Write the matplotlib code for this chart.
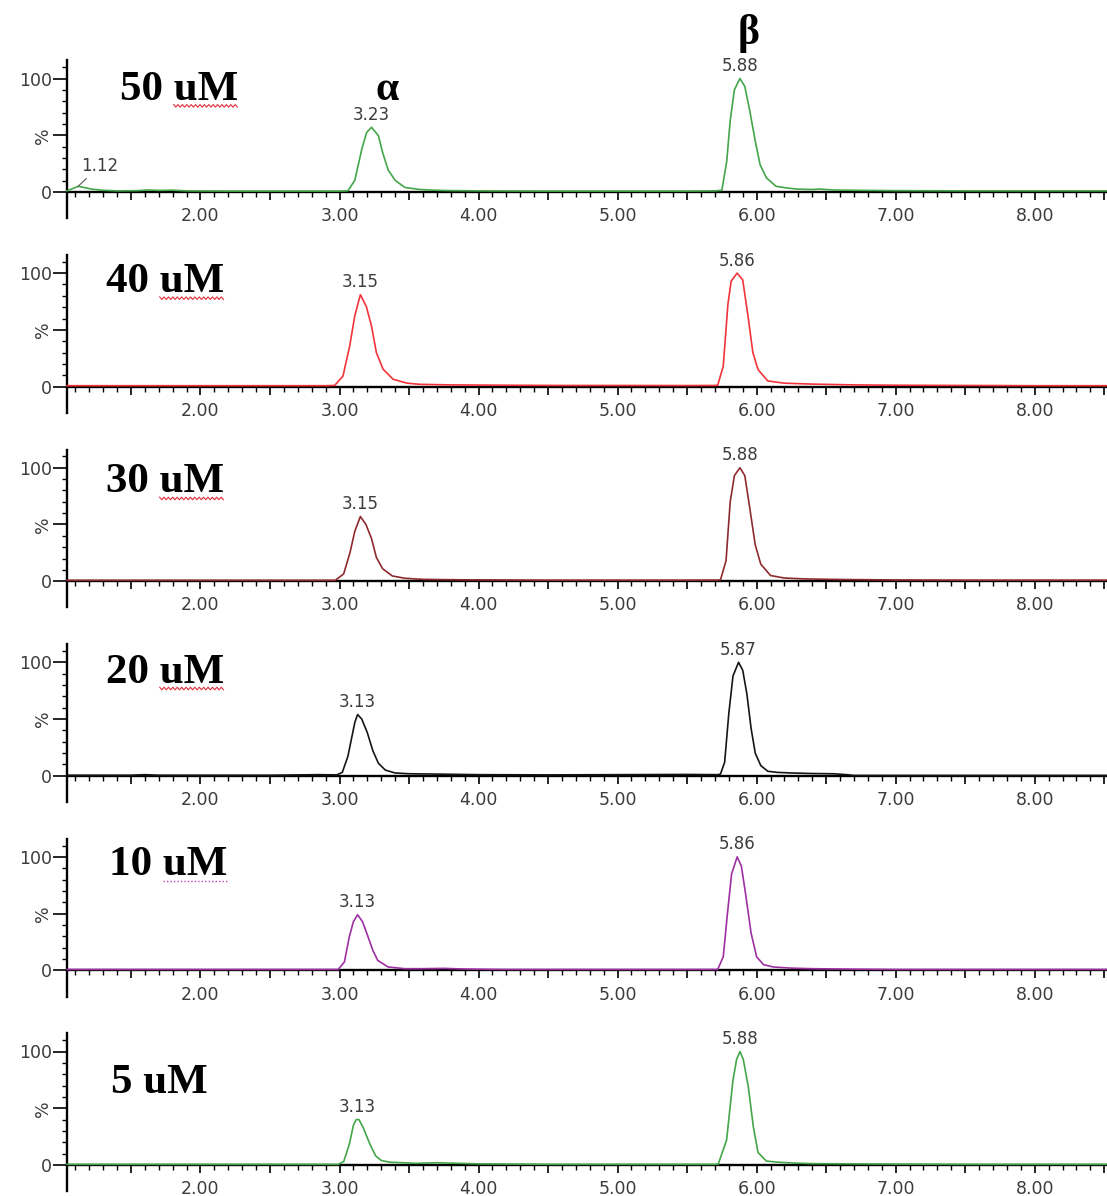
import matplotlib
matplotlib.use("Agg")
import matplotlib.pyplot as plt
from matplotlib.ticker import MultipleLocator, FixedLocator, FuncFormatter
from matplotlib.lines import Line2D
import numpy as np

# ---------------- data ----------------
concentrations = ["50 uM", "40 uM", "30 uM", "20 uM", "10 uM", "5 uM"]
alpha_rt = [3.23, 3.15, 3.15, 3.13, 3.13, 3.13]
beta_rt = [5.88, 5.86, 5.88, 5.87, 5.86, 5.88]
minor_peak_rt = 1.12          # small peak labelled in the 50 uM trace
y_ticks = [0, 50, 100]
y_ticklabels = ["0", "%", "100"]

t50 = [1.04, 1.08, 1.12, 1.16, 1.22, 1.30, 1.40, 1.55, 1.62, 1.70, 1.80, 1.90, 2.20, 2.60, 3.00, 3.06, 3.11, 3.16, 3.195, 3.23,
       3.28, 3.31, 3.35, 3.40, 3.47, 3.52, 3.57, 3.64, 3.75, 4.00, 4.50, 5.00, 5.50, 5.70, 5.75, 5.785, 5.81, 5.84, 5.88, 5.915,
       5.95, 5.99, 6.025, 6.07, 6.14, 6.22, 6.30, 6.40, 6.45, 6.55, 6.70, 7.00, 7.50, 8.00, 8.52]
i50 = [1.0, 3.0, 5.0, 4.0, 2.5, 1.5, 1.0, 1.2, 1.8, 1.4, 1.6, 1.0, 0.8, 0.8, 0.8, 1.0, 10.3, 37.6, 52.4, 57.0,
       49.6, 34.8, 19.4, 10.3, 4.0, 3.2, 2.3, 1.8, 1.3, 1.0, 0.8, 0.8, 0.8, 1.0, 1.5, 27.0, 63.0, 90.0, 100.0, 93.0,
       72.0, 45.0, 24.0, 12.5, 5.0, 3.5, 2.5, 2.2, 2.6, 1.8, 1.5, 1.2, 1.0, 1.0, 1.0]

t40 = [1.04, 1.50, 2.00, 2.50, 2.90, 2.965, 3.025, 3.073, 3.11, 3.15, 3.193, 3.23, 3.265, 3.313, 3.385, 3.48, 3.52, 3.58, 3.80, 4.20,
       4.60, 5.00, 5.50, 5.70, 5.72, 5.76, 5.793, 5.817, 5.86, 5.90, 5.937, 5.973, 6.01, 6.08, 6.20, 6.40, 6.70, 7.00, 7.50, 8.00, 8.52]
i40 = [0.8, 0.8, 0.8, 0.8, 0.8, 1.0, 9.3, 35.6, 62.4, 81.0, 70.5, 53.5, 30.0, 15.4, 6.5, 3.2, 2.6, 2.0, 1.5, 1.2,
       1.0, 1.0, 0.9, 1.0, 1.2, 18.0, 72.0, 93.0, 100.0, 94.0, 63.0, 30.0, 15.0, 5.0, 3.0, 2.2, 1.5, 1.2, 1.0, 0.8, 0.8]

t30 = [1.04, 1.50, 2.00, 2.50, 2.90, 2.97, 3.03, 3.075, 3.11, 3.15, 3.19, 3.23, 3.265, 3.31, 3.38, 3.47, 3.60, 3.90, 4.50, 5.00,
       5.50, 5.72, 5.74, 5.78, 5.81, 5.84, 5.88, 5.915, 5.95, 5.99, 6.03, 6.10, 6.20, 6.35, 6.60, 7.00, 7.50, 8.00, 8.52]
i30 = [0.8, 0.8, 0.8, 0.8, 0.8, 0.8, 6.5, 25.0, 44.0, 57.0, 50.0, 37.6, 21.0, 11.0, 4.6, 2.6, 1.6, 1.2, 0.9, 0.9,
       0.9, 1.0, 1.2, 18.0, 70.0, 93.0, 100.0, 93.0, 65.0, 32.0, 15.0, 5.0, 2.8, 2.0, 1.5, 1.1, 0.9, 0.9, 0.9]

t20 = [1.04, 1.50, 1.60, 1.70, 2.00, 2.50, 2.85, 2.98, 3.02, 3.06, 3.09, 3.11, 3.13, 3.16, 3.20, 3.24, 3.28, 3.33, 3.40, 3.50,
       3.70, 4.00, 4.50, 5.00, 5.50, 5.72, 5.74, 5.77, 5.80, 5.83, 5.87, 5.90, 5.93, 5.96, 5.99, 6.03, 6.08, 6.15, 6.25, 6.40,
       6.55, 6.65, 6.70, 7.50, 8.52]
i20 = [0.5, 0.5, 1.0, 0.5, 0.5, 0.5, 1.0, 0.8, 3.0, 17.0, 35.0, 47.0, 54.0, 50.0, 38.0, 22.0, 11.0, 5.0, 2.5, 1.8,
       1.5, 1.0, 0.8, 1.0, 1.2, 1.0, 1.5, 12.0, 55.0, 88.0, 100.0, 93.0, 72.0, 42.0, 20.0, 9.0, 4.0, 3.0, 2.5, 2.0,
       1.8, 1.0, 0.3, 0.3, 0.3]

t10 = [1.04, 1.50, 2.00, 2.50, 2.90, 2.99, 3.035, 3.07, 3.10, 3.13, 3.165, 3.20, 3.24, 3.275, 3.35, 3.47, 3.60, 3.75, 3.90, 4.20,
       4.60, 5.00, 5.50, 5.70, 5.72, 5.76, 5.79, 5.82, 5.86, 5.89, 5.92, 5.96, 6.00, 6.05, 6.12, 6.25, 6.40, 6.60, 7.00, 7.50,
       8.00, 8.52]
i10 = [0.8, 0.8, 0.8, 0.8, 0.8, 0.8, 7.4, 29.4, 43.0, 49.0, 43.0, 31.4, 17.6, 8.8, 3.0, 1.5, 1.5, 1.8, 1.2, 0.8,
       0.8, 0.8, 0.8, 0.8, 0.8, 12.0, 50.0, 85.0, 100.0, 92.0, 68.0, 33.0, 12.0, 5.0, 3.0, 2.0, 1.5, 1.2, 0.8, 0.8,
       0.8, 0.8]

t5 = [1.04, 1.50, 2.00, 2.50, 2.90, 2.99, 3.03, 3.07, 3.10, 3.12, 3.14, 3.17, 3.19, 3.22, 3.26, 3.30, 3.36, 3.45, 3.55, 3.70,
      3.85, 4.00, 4.50, 5.00, 5.50, 5.70, 5.724, 5.784, 5.83, 5.856, 5.88, 5.904, 5.94, 5.976, 6.01, 6.07, 6.15, 6.25, 6.40, 7.00,
      7.50, 8.00, 8.52]
i5 = [0.6, 0.6, 0.6, 0.6, 0.6, 0.5, 3.0, 18.0, 35.0, 40.0, 40.0, 33.0, 27.0, 18.0, 8.0, 4.0, 2.5, 2.0, 1.5, 2.0,
      1.5, 1.0, 0.6, 0.6, 0.6, 0.6, 0.8, 22.0, 75.0, 93.0, 100.0, 93.0, 69.0, 34.0, 11.0, 3.5, 2.5, 1.8, 1.2, 0.8,
      0.6, 0.6, 0.6]

times = [t50, t40, t30, t20, t10, t5]
intensities = [i50, i40, i30, i20, i10, i5]

# ---------------- styling / layout ----------------
trace_colors = ["#43a649", "#f2333a", "#8e2a2e", "#151515", "#9d2fa3", "#43a649"]
underline_style = ["wave", "wave", "wave", "wave", "dots", None]
underline_color = ["#e0303a", "#e0303a", "#e0303a", "#e0303a", "#c040c0", None]
label_pos = [(1.42, 90), (1.32, 92), (1.32, 87), (1.32, 91), (1.34, 93), (1.36, 72)]

W, H = 1107, 1196
fig = plt.figure(figsize=(W / 100, H / 100), dpi=100)
fig.patch.set_facecolor("white")

XLIM = (1.04, 8.52)
YTOP = 117
px_per_unit = 1.135
tick_grey = "#3c3c3c"
serif = ["Liberation Serif", "DejaVu Serif"]

label_texts = []
axes = []
for k in range(6):
    y0_px = 192 + 194.6 * k
    ax = fig.add_axes([67 / W, 1 - y0_px / H, (W - 67) / W, YTOP * px_per_unit / H])
    axes.append(ax)
    ax.set_xlim(*XLIM)
    ax.set_ylim(0, YTOP)
    ax.patch.set_alpha(0)
    for s in ("top", "right"):
        ax.spines[s].set_visible(False)
    ax.spines["bottom"].set_linewidth(1.7)
    ax.spines["left"].set_linewidth(1.7)
    ax.spines["left"].set_bounds(-23, 116)

    ax.plot(times[k], intensities[k], color=trace_colors[k], lw=1.2, zorder=3, clip_on=False)

    # x axis ticks
    ax.xaxis.set_major_locator(MultipleLocator(0.5))
    ax.xaxis.set_minor_locator(MultipleLocator(0.1))
    ax.xaxis.set_major_formatter(FuncFormatter(
        lambda v, p: f"{v:.2f}" if abs(v - round(v)) < 1e-6 else ""))
    ax.tick_params(axis="x", which="major", direction="out", length=6, width=1.2,
                   pad=5, labelsize=12.5, labelcolor=tick_grey, color="black")
    ax.tick_params(axis="x", which="minor", direction="out", length=3.5, width=1.0, color="black")

    # y axis ticks
    ax.yaxis.set_major_locator(FixedLocator(y_ticks))
    ax.set_yticklabels(y_ticklabels)
    ax.yaxis.set_minor_locator(MultipleLocator(10))
    ax.tick_params(axis="y", which="major", direction="out", length=10, width=1.2,
                   pad=1, labelsize=12.5, labelcolor=tick_grey, color="black")
    ax.tick_params(axis="y", which="minor", direction="out", length=3.5, width=1.0, color="black")
    ax.get_yticklabels()[1].set_rotation(90)
    ax.get_yticklabels()[1].set_va("center")

    # peak labels
    t_arr = np.array(times[k])
    i_arr = np.array(intensities[k])
    for rt in (alpha_rt[k], beta_rt[k]):
        h = i_arr[np.abs(t_arr - rt) < 0.045].max()
        ax.annotate(f"{rt:.2f}", xy=(rt, h), xytext=(0, 2.5), textcoords="offset points",
                    ha="center", va="bottom", fontsize=12, color=tick_grey, zorder=4)

    # concentration label
    lx, ly = label_pos[k]
    txt = ax.text(lx, ly, concentrations[k], ha="left", va="center", fontsize=31,
                  fontweight="bold", family=serif, color="black", zorder=5)
    label_texts.append(txt)

# extras on the top panel
ax0 = axes[0]
h_minor = np.array(i50)[np.abs(np.array(t50) - minor_peak_rt) < 0.02].max()
ax0.annotate(f"{minor_peak_rt:.2f}", xy=(minor_peak_rt, h_minor), xytext=(1.275, 23),
             ha="center", va="center", fontsize=12, color=tick_grey,
             arrowprops=dict(arrowstyle="-", color="#555555", lw=0.8, shrinkA=1, shrinkB=0))
ax0.text(3.345, 81, "α", ha="center", va="baseline", fontsize=30, fontweight="bold",
         family=serif, color="black")
ax0.text(5.94, 140, "β", ha="center", va="center", fontsize=30, fontweight="bold",
         family=serif, color="black", clip_on=False)

# spell-check style underlines beneath "uM"
fig.canvas.draw()
r = fig.canvas.get_renderer()
inv = fig.transFigure.inverted()
for k, txt in enumerate(label_texts):
    style = underline_style[k]
    if style is None:
        continue
    bb = txt.get_window_extent(r)
    tmp = fig.text(0, 0, "uM", fontproperties=txt.get_fontproperties())
    w_um = tmp.get_window_extent(r).width
    tmp.remove()
    x_a, x_b = bb.x1 - w_um, bb.x1
    yb = bb.y0 + 3
    if style == "wave":
        xs = np.arange(x_a, x_b, 2.2)
        ys = yb + np.where(np.arange(len(xs)) % 2 == 0, 1.3, -1.3)
        pts = inv.transform(np.column_stack([xs, ys]))
        fig.add_artist(Line2D(pts[:, 0], pts[:, 1], transform=fig.transFigure,
                              color=underline_color[k], lw=0.8))
    else:
        pts = inv.transform(np.array([[x_a, yb], [x_b, yb]]))
        fig.add_artist(Line2D(pts[:, 0], pts[:, 1], transform=fig.transFigure,
                              color=underline_color[k], lw=1.0, ls=(0, (1, 1.5))))

fig.savefig("out.png", dpi=100, facecolor="white")
